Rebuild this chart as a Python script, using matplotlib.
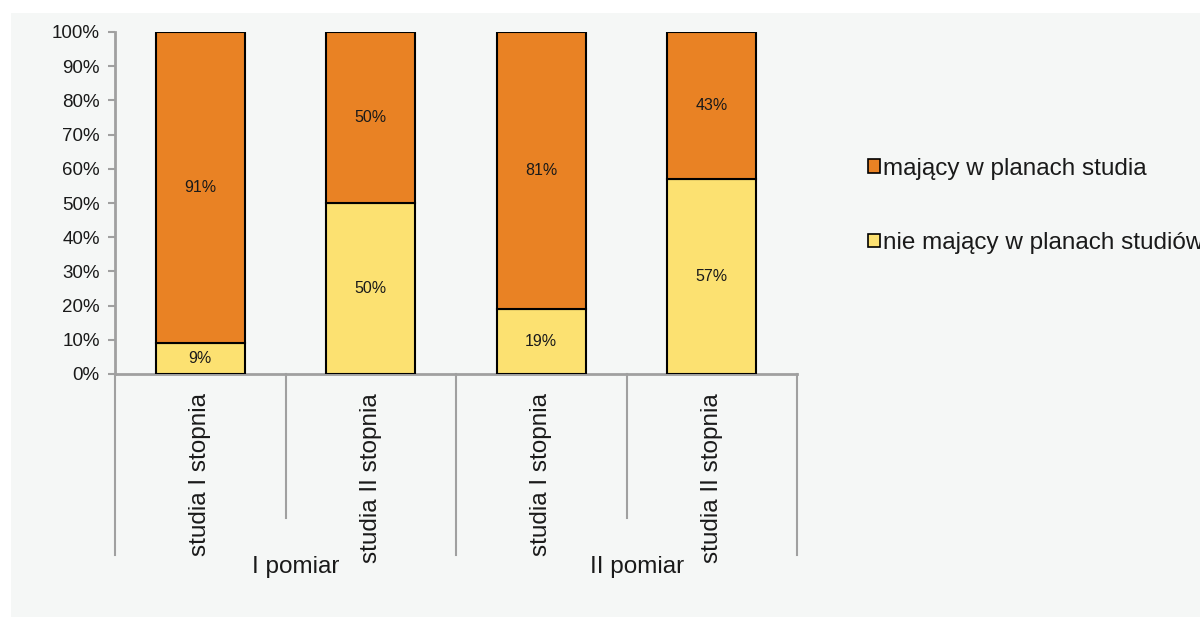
import matplotlib
matplotlib.use("Agg")
import matplotlib.pyplot as plt
from matplotlib.patches import Patch, Rectangle
import matplotlib.transforms as mtransforms

plt.rcParams['font.family'] = ['Liberation Sans', 'DejaVu Sans']

categories = ["studia I stopnia", "studia II stopnia", "studia I stopnia", "studia II stopnia"]
groups = ["I pomiar", "II pomiar"]
nie_majacy = [9, 50, 19, 57]      # bottom (yellow)
majacy = [91, 50, 81, 43]         # top (orange)
series_names = ["mający w planach studia", "nie mający w planach studiów"]
yticks = [0, 10, 20, 30, 40, 50, 60, 70, 80, 90, 100]

ORANGE = "#E98224"
YELLOW = "#FCE171"
BG = "#F5F7F6"
AXC = "#A0A0A0"
TXT = "#1A1A1A"

fig = plt.figure(figsize=(12, 6.17), dpi=100)
fig.patch.set_facecolor("white")
fig.patches.append(Rectangle((11/1200, 0), 1 - 11/1200, 1 - 13/617,
                             transform=fig.transFigure, facecolor=BG,
                             edgecolor="none", zorder=-10))

ax = fig.add_axes([115/1200, 1 - 374/617, (797 - 115)/1200, (374 - 32)/617])
ax.set_facecolor("none")

x = list(range(len(categories)))
w = 0.52
ax.bar(x, nie_majacy, width=w, color=YELLOW, edgecolor="black", linewidth=1.5, zorder=3)
ax.bar(x, majacy, width=w, bottom=nie_majacy, color=ORANGE, edgecolor="black", linewidth=1.5, zorder=3)

for i in x:
    ax.text(i, nie_majacy[i] / 2, f"{nie_majacy[i]}%", ha="center", va="center",
            fontsize=11.5, color=TXT, zorder=4)
    ax.text(i, nie_majacy[i] + majacy[i] / 2, f"{majacy[i]}%", ha="center", va="center",
            fontsize=11.5, color=TXT, zorder=4)

ax.set_xlim(-0.5, len(categories) - 0.5)
ax.set_ylim(0, 100)
ax.set_yticks(yticks)
ax.set_yticklabels([f"{v}%" for v in yticks], fontsize=13.5, color=TXT)
ax.tick_params(axis="y", direction="out", length=5, width=1.5, color=AXC, pad=6)
ax.set_xticks([])
for s in ["top", "right"]:
    ax.spines[s].set_visible(False)
for s in ["left", "bottom"]:
    ax.spines[s].set_color(AXC)
    ax.spines[s].set_linewidth(2)

trans = mtransforms.blended_transform_factory(ax.transData, ax.transAxes)
n = len(categories)
for k in range(n + 1):
    xb = k - 0.5
    outer = (k % 2 == 0)
    ybot = -0.529 if outer else -0.421
    ax.plot([xb, xb], [0, ybot], transform=trans, color=AXC, lw=1.5,
            clip_on=False, zorder=2)

for i, lab in enumerate(categories):
    ax.text(i, -0.055, lab, transform=trans, rotation=90, ha="center", va="top",
            fontsize=17.5, color=TXT)

for g, lab in enumerate(groups):
    ax.text(2 * g + 0.5 + 0.06, -0.565, lab, transform=trans, ha="center", va="center",
            fontsize=17.5, color=TXT)

handles = [Patch(facecolor=ORANGE, edgecolor="black", linewidth=1.2),
           Patch(facecolor=YELLOW, edgecolor="black", linewidth=1.2)]
fig.legend(handles, series_names, loc="center left",
           bbox_to_anchor=(868/1200, 1 - 206/617), bbox_transform=fig.transFigure,
           frameon=False, fontsize=17.5, handlelength=0.5, handleheight=0.5,
           handletextpad=0.12, labelspacing=2.15, borderpad=0, borderaxespad=0,
           labelcolor=TXT)

fig.savefig("out.png", dpi=100)
